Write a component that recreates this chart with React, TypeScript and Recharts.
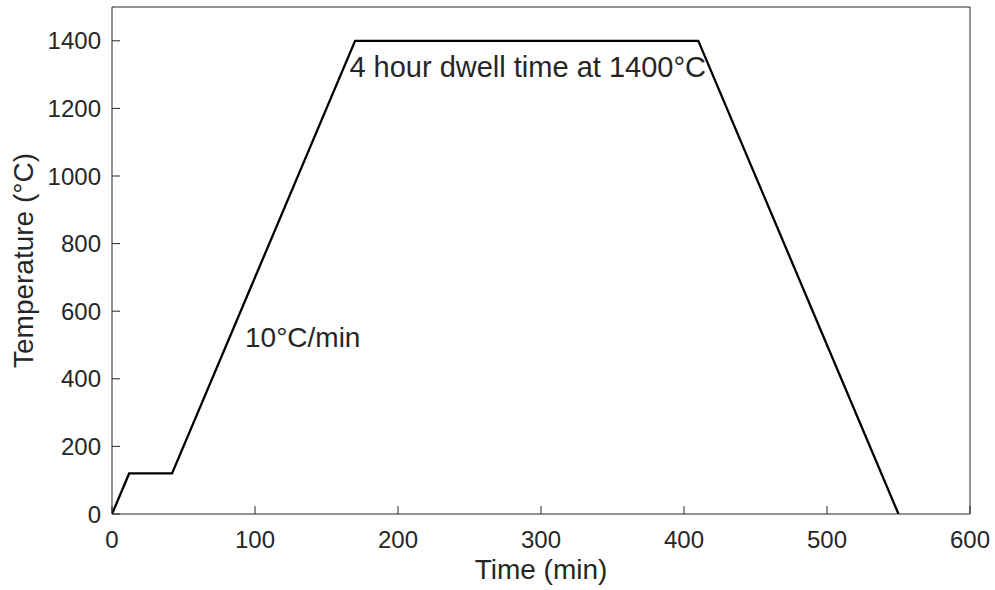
import { LineChart, Line, XAxis, YAxis, ReferenceDot } from "recharts";

// #region Sample data
const times = [0, 12, 42, 170, 410, 550];
const temps = [0, 120, 120, 1400, 1400, 0];
const xTicks = [0, 100, 200, 300, 400, 500, 600];
const yTicks = [0, 200, 400, 600, 800, 1000, 1200, 1400];
// #endregion

const data = times.map((t, i) => ({ time: t, temp: temps[i] }));

const font = '"Liberation Sans", Arial, Helvetica, sans-serif';
const ink = "#262626";

const annotation =
  (text: string, size: number) =>
  ({ viewBox }: any) =>
    (
      <text
        x={viewBox.x}
        y={viewBox.y}
        fontSize={size}
        fontFamily={font}
        fill={ink}
      >
        {text}
      </text>
    );

const App = () => (
  <div style={{ position: "absolute", left: 0, top: 0, background: "#fff" }}>
    <LineChart
      width={995}
      height={590}
      data={data}
      margin={{ top: 6, right: 0, bottom: 0, left: 0 }}
    >
      <XAxis
        xAxisId="b"
        dataKey="time"
        type="number"
        domain={[0, 600]}
        ticks={xTicks}
        allowDataOverflow
        height={76}
        tickSize={-8}
        tickMargin={25}
        stroke={ink}
        tick={{ fill: ink, fontSize: 24, fontFamily: font }}
        label={{
          value: "Time (min)",
          position: "insideBottom",
          offset: 11,
          fill: ink,
          fontSize: 28,
          fontFamily: font,
        }}
      />
      <XAxis
        xAxisId="t"
        orientation="top"
        type="number"
        domain={[0, 600]}
        ticks={xTicks}
        allowDataOverflow
        height={1}
        tickSize={-8}
        stroke={ink}
        tick={false}
      />
      <YAxis
        yAxisId="l"
        type="number"
        domain={[0, 1500]}
        ticks={yTicks}
        allowDataOverflow
        width={112}
        tickSize={-8}
        tickMargin={19}
        stroke={ink}
        tick={{ fill: ink, fontSize: 24, fontFamily: font }}
        label={{
          value: "Temperature (°C)",
          angle: -90,
          position: "insideLeft",
          offset: 23,
          fill: ink,
          fontSize: 28,
          fontFamily: font,
          style: { textAnchor: "middle" },
        }}
      />
      <YAxis
        yAxisId="r"
        orientation="right"
        type="number"
        domain={[0, 1500]}
        ticks={yTicks}
        allowDataOverflow
        width={25}
        tickSize={-8}
        stroke={ink}
        tick={false}
      />
      <Line
        xAxisId="b"
        yAxisId="l"
        type="linear"
        dataKey="temp"
        stroke="#000"
        strokeWidth={2.3}
        dot={false}
        isAnimationActive={false}
      />
      <ReferenceDot
        xAxisId="b"
        yAxisId="l"
        x={166}
        y={1293}
        r={0}
        stroke="none"
        fill="none"
        label={annotation("4 hour dwell time at 1400°C", 29)}
      />
      <ReferenceDot
        xAxisId="b"
        yAxisId="l"
        x={93}
        y={495}
        r={0}
        stroke="none"
        fill="none"
        label={annotation("10°C/min", 28)}
      />
    </LineChart>
  </div>
);

export default App;
